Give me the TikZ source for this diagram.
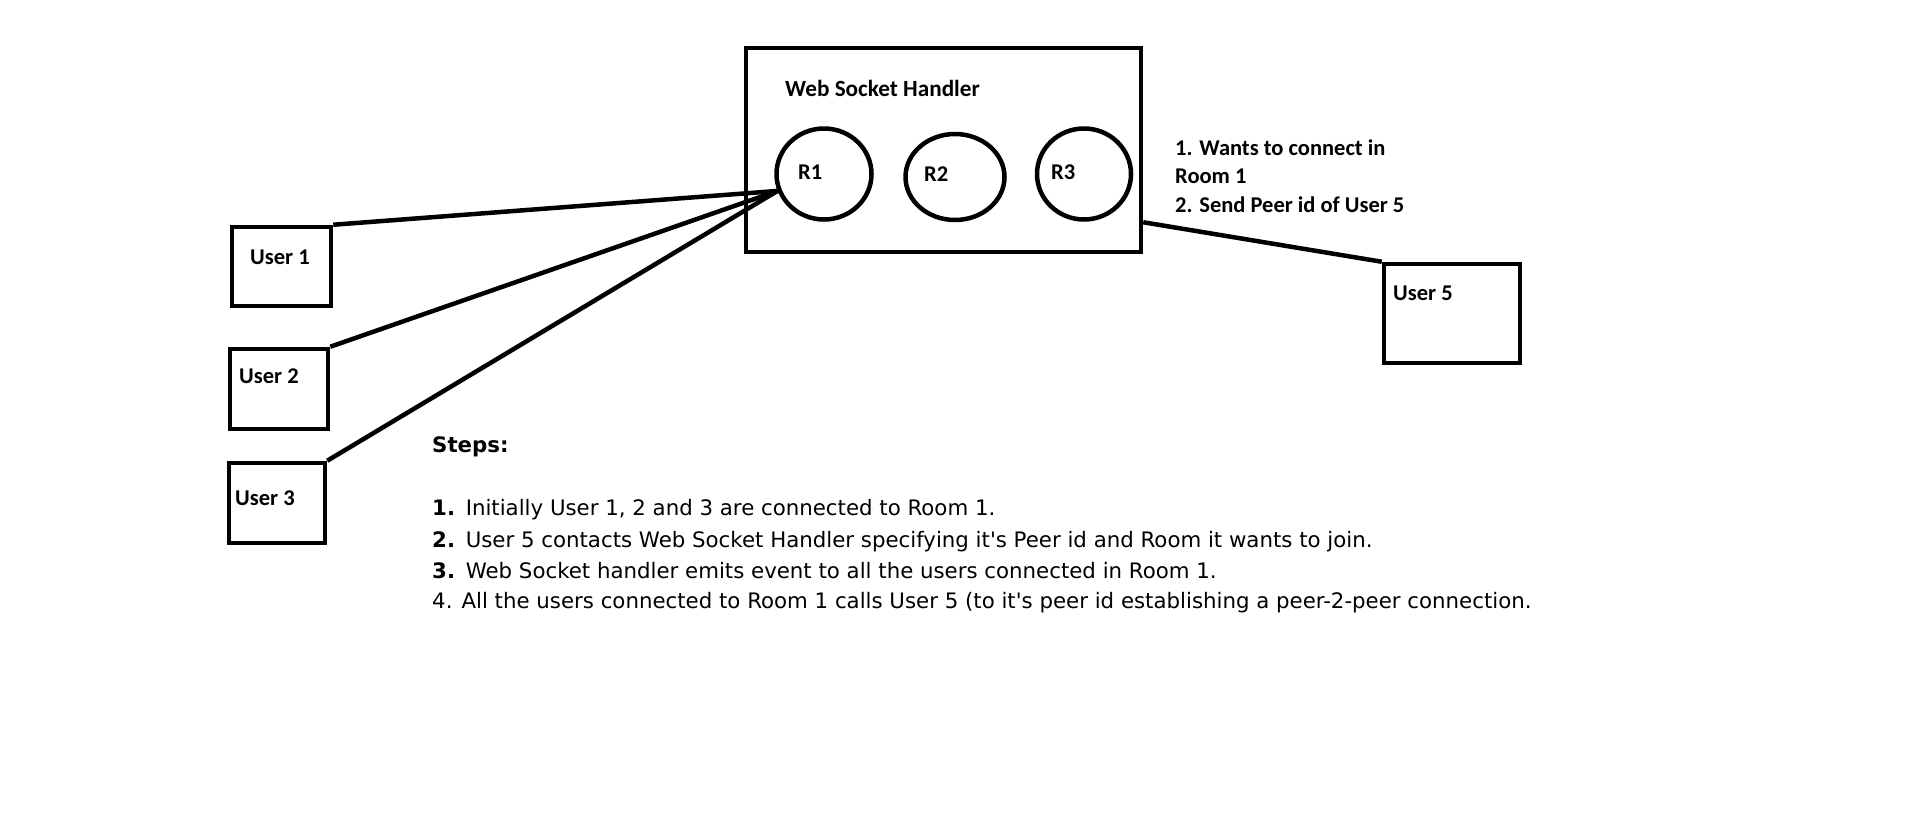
\documentclass[tikz,border=0pt]{standalone}
\usepackage{fontspec}
\setmainfont{Carlito}
\newfontfamily\stepfont{DejaVu Sans}
\usetikzlibrary{shapes.geometric,calc}
\tikzset{
  box/.style={draw, line width=4.5pt, rectangle, inner sep=0pt},
  room/.style={draw, line width=4.5pt, ellipse, inner sep=0pt},
  conn/.style={line width=4.5pt},
  lbl/.style={anchor=base west, inner sep=0pt, font=\fontsize{22.5}{26}\selectfont\bfseries},
  steptxt/.style={anchor=base west, inner sep=0pt, font=\fontsize{21.3}{24}\selectfont\stepfont},
}
\begin{document}
\begin{tikzpicture}[x=1pt,y=-1pt]
\useasboundingbox[fill=white] (0,0) rectangle (1914,825);
% hub
\node[box, minimum width=395pt, minimum height=204pt] (hub) at (943.5,150) {};
\node[lbl, font=\fontsize{23.2}{26}\selectfont\bfseries] (hubt) at (785,96) {Web Socket Handler};
% rooms
\node[room, minimum width=95pt, minimum height=91pt] (r1) at (824,174) {};
\node[room, minimum width=99pt, minimum height=86pt] (r2) at (955,177) {};
\node[room, minimum width=94pt, minimum height=91pt] (r3) at (1084,174) {};
\node[lbl] (r1t) at (798,179) {R1};
\node[lbl] (r2t) at (924,181) {R2};
\node[lbl] (r3t) at (1051,179) {R3};
% users
\node[box, minimum width=99pt, minimum height=79pt] (u1) at (281.5,266.5) {};
\node[box, minimum width=98pt, minimum height=80pt] (u2) at (279,389) {};
\node[box, minimum width=96pt, minimum height=80pt] (u3) at (277,503) {};
\node[box, minimum width=136pt, minimum height=99pt] (u5) at (1452,313.5) {};
\node[lbl] (u1t) at (250,264) {User 1};
\node[lbl] (u2t) at (239,383) {User 2};
\node[lbl] (u3t) at (235,505) {User 3};
\node[lbl] (u5t) at (1393,300) {User 5};
% connectors
\draw[conn] (u1.north east) -- (r1.200);
\draw[conn] (u2.north east) -- (r1.200);
\draw[conn] (u3.north east) -- (r1.200);
\draw[conn] ([yshift=32pt]hub.south east) -- (u5.north west);
% label
\node[lbl] (n1) at (1175,155) {1. Wants to connect in};
\node[lbl] (n2) at (1175,183) {Room 1};
\node[lbl] (n3) at (1175,212) {2. Send Peer id of User 5};
% steps
\node[steptxt, font=\fontsize{21.3}{24}\selectfont\stepfont\bfseries] (st) at (432,452) {Steps:};
\node[steptxt] (s1) at (432,515) {\textbf{1.}\hspace{0.5em}Initially User 1, 2 and 3 are connected to Room 1.};
\node[steptxt] (s2) at (432,547) {\textbf{2.}\hspace{0.5em}User 5 contacts Web Socket Handler specifying it's Peer id and Room it wants to join.};
\node[steptxt] (s3) at (432,578) {\textbf{3.}\hspace{0.5em}Web Socket handler emits event to all the users connected in Room 1.};
\node[steptxt] (s4) at (432,608) {4. All the users connected to Room 1 calls User 5 (to it's peer id establishing a peer-2-peer connection.};
\end{tikzpicture}
\end{document}
